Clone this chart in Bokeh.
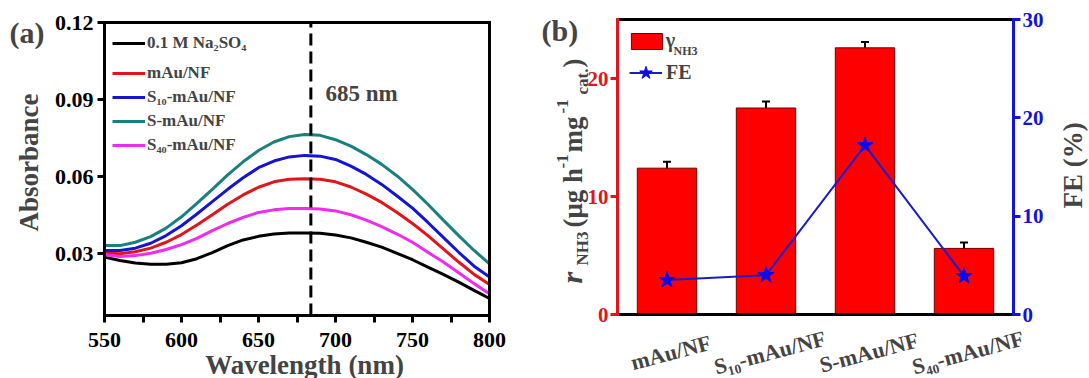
import math
from bokeh.plotting import figure
from bokeh.layouts import row
from bokeh.models import (Range1d, LinearAxis, Label, Legend, LegendItem,
                          Whisker, ColumnDataSource, FixedTicker, TeeHead,
                          NumeralTickFormatter)
from bokeh.embed import file_html
from bokeh.resources import INLINE

FONT = "Liberation Serif"

# ---------------- data: panel (a) ----------------
wavelength = [550, 560, 570, 580, 590, 600, 610, 620, 630, 640, 650, 660, 670,
              680, 690, 700, 710, 720, 730, 740, 750, 760, 770, 780, 790, 800]
abs_na2so4 = [0.0287, 0.0274, 0.0264, 0.0259, 0.0259, 0.0265, 0.0281, 0.0305, 0.0332,
              0.0354, 0.0368, 0.0377, 0.0381, 0.0381, 0.0380, 0.0373, 0.0362, 0.0345,
              0.0326, 0.0302, 0.0277, 0.0248, 0.0220, 0.0190, 0.0158, 0.0126]
abs_mau = [0.0304, 0.0300, 0.0308, 0.0322, 0.0345, 0.0375, 0.0412, 0.0452, 0.0493,
           0.0529, 0.0559, 0.0580, 0.0590, 0.0592, 0.0590, 0.0580, 0.0560, 0.0532,
           0.0500, 0.0461, 0.0418, 0.0371, 0.0319, 0.0268, 0.0220, 0.0181]
abs_s10 = [0.0313, 0.0313, 0.0322, 0.0341, 0.0371, 0.0409, 0.0455, 0.0503, 0.0551,
           0.0596, 0.0635, 0.0661, 0.0677, 0.0683, 0.0680, 0.0667, 0.0641, 0.0609,
           0.0570, 0.0525, 0.0478, 0.0422, 0.0364, 0.0306, 0.0252, 0.0210]
abs_s = [0.0332, 0.0332, 0.0345, 0.0367, 0.0400, 0.0444, 0.0496, 0.0551, 0.0607,
         0.0658, 0.0702, 0.0735, 0.0756, 0.0764, 0.0761, 0.0744, 0.0719, 0.0686,
         0.0648, 0.0603, 0.0551, 0.0493, 0.0431, 0.0371, 0.0313, 0.0261]
abs_s40 = [0.0296, 0.0290, 0.0293, 0.0302, 0.0317, 0.0336, 0.0360, 0.0390, 0.0418,
           0.0442, 0.0461, 0.0471, 0.0476, 0.0476, 0.0474, 0.0467, 0.0452, 0.0431,
           0.0406, 0.0377, 0.0345, 0.0306, 0.0268, 0.0226, 0.0184, 0.0145]
series_names = ["0.1 M Na\u2082SO\u2084", "mAu/NF", "S\u2081\u2080-mAu/NF",
                "S-mAu/NF", "S\u2084\u2080-mAu/NF"]
series_colors = ["#000000", "#E3151B", "#1414D2", "#1A7F7F", "#EE2BEE"]
x_lim_a = (550, 800)
y_lim_a = (0.006, 0.12)
x_ticks_a = [550, 600, 650, 700, 750, 800]
x_minor_a = [575, 625, 675, 725, 775]
y_ticks_a = [0.03, 0.06, 0.09, 0.12]
peak_nm = 684
peak_text = "685 nm"

# ---------------- data: panel (b) ----------------
catalysts = ["mAu/NF", "S\u2081\u2080-mAu/NF", "S-mAu/NF", "S\u2084\u2080-mAu/NF"]
r_nh3 = [12.4, 17.5, 22.6, 5.6]
r_nh3_err = [0.55, 0.55, 0.5, 0.5]
fe = [3.5, 4.0, 17.2, 3.9]
y_lim_left = (0, 25)
y_lim_right = (0, 30)
y_ticks_left = [0, 10, 20]
y_ticks_right = [0, 10, 20, 30]

RED_AX = "#E0161B"
BLUE_AX = "#1212DC"
H = 378


def ranges_for(box, w, lo, hi, ylo, yhi):
    """Extend data ranges so that the plot box sits at the given pixels of a full-canvas frame."""
    sx = (box["right"] - box["left"]) / (hi - lo)
    sy = (box["bottom"] - box["top"]) / (yhi - ylo)
    xr = Range1d(lo - box["left"] / sx, hi + (w - box["right"]) / sx)
    yr = Range1d(ylo - (H - box["bottom"]) / sy, yhi + box["top"] / sy)
    return xr, yr


def frame_axis(kind, fixed, bounds, color="black", ticks=(), minor=(), size="22px",
               standoff=4, y_range_name="default", formatter=None, minor_out=0):
    ax = LinearAxis(fixed_location=fixed, bounds=bounds,
                    ticker=FixedTicker(ticks=list(ticks), minor_ticks=list(minor)))
    if kind in ("left", "right"):
        ax.y_range_name = y_range_name
    ax.axis_line_width = 3
    ax.axis_line_color = color
    ax.axis_line_cap = "square"
    ax.major_tick_line_width = 3
    ax.major_tick_line_color = color
    ax.major_tick_out = 7
    ax.major_tick_in = 0
    ax.minor_tick_line_width = 3
    ax.minor_tick_line_color = color
    ax.minor_tick_out = minor_out
    ax.minor_tick_in = 0
    ax.major_label_text_font = FONT
    ax.major_label_text_font_style = "bold"
    ax.major_label_text_font_size = size
    ax.major_label_text_color = color
    ax.major_label_standoff = standoff
    if formatter is not None:
        ax.formatter = formatter
    return ax


def txt(x, y, text, size, align="left", baseline="middle", angle=0.0, style="bold",
        xu="screen", yu="screen", **kw):
    return Label(x=x, y=y, x_units=xu, y_units=yu, text=text, angle=angle,
                 text_font=FONT, text_font_style=style, text_font_size=size,
                 text_align=align, text_baseline=baseline, **kw)


def style_legend(lg, size):
    lg.padding = 0
    lg.margin = 0
    lg.border_line_color = None
    lg.background_fill_alpha = 0
    lg.label_text_font = FONT
    lg.label_text_font_style = "bold"
    lg.label_text_font_size = size


# ====================== panel (a) ======================
WA = 540
BOX_A = dict(left=104, right=489, top=22, bottom=315)
xr_a, yr_a = ranges_for(BOX_A, WA, x_lim_a[0], x_lim_a[1], y_lim_a[0], y_lim_a[1])
pa = figure(width=WA, height=H, x_range=xr_a, y_range=yr_a,
            x_axis_type=None, y_axis_type=None,
            output_backend="svg", toolbar_location=None, min_border=0)
pa.grid.visible = False
pa.outline_line_color = None
pa.background_fill_color = "white"
pa.border_fill_color = "white"

pa.add_layout(frame_axis("below", y_lim_a[0], x_lim_a, ticks=x_ticks_a, minor=x_minor_a,
                         standoff=10, minor_out=7), "below")
pa.add_layout(frame_axis("left", x_lim_a[0], y_lim_a, ticks=y_ticks_a, standoff=4,
                         formatter=NumeralTickFormatter(format="0.00")), "left")
pa.add_layout(frame_axis("above", y_lim_a[1], x_lim_a), "above")
pa.add_layout(frame_axis("right", x_lim_a[1], y_lim_a), "right")

series = [abs_na2so4, abs_mau, abs_s10, abs_s, abs_s40]
rends = []
for vals, col in zip(series, series_colors):
    rends.append(pa.line(wavelength, vals, line_color=col, line_width=3))

pa.segment(x0=[peak_nm], y0=[y_lim_a[0]], x1=[peak_nm], y1=[y_lim_a[1]],
           line_color="black", line_width=3, line_dash="12 6")
pa.add_layout(txt(693.5, 0.0922, peak_text, "23px", xu="data", yu="data"))

leg_a1 = Legend(items=[LegendItem(label=series_names[0], renderers=[rends[0]])],
                location=(112, 325), glyph_width=33, glyph_height=20, label_height=20,
                label_standoff=2)
leg_a2 = Legend(items=[LegendItem(label=n, renderers=[r]) for n, r in zip(series_names[1:], rends[1:])],
                location=(112, 223), glyph_width=33, glyph_height=20, label_height=20,
                label_standoff=2, spacing=4)
for lg in (leg_a1, leg_a2):
    style_legend(lg, "17px")
    pa.add_layout(lg)

pa.add_layout(txt(9, 346, "(a)", "30px"))
pa.add_layout(txt(28, 216, "Absorbance", "27px", align="center", angle=math.pi / 2))
pa.add_layout(txt(304, 14, "Wavelength (nm)", "27px", align="center"))

# ====================== panel (b) ======================
WB = 549
BOX_B = dict(left=77, right=473, top=19, bottom=314)
xpos = [i + 1 for i in range(len(catalysts))]
x_lim_b = (0.5, len(catalysts) + 0.5)
xr_b, yr_b = ranges_for(BOX_B, WB, x_lim_b[0], x_lim_b[1], y_lim_left[0], y_lim_left[1])
_, yr_fe = ranges_for(BOX_B, WB, x_lim_b[0], x_lim_b[1], y_lim_right[0], y_lim_right[1])

src = ColumnDataSource(dict(
    x=xpos, r=r_nh3, fe=fe,
    upper=[v + e for v, e in zip(r_nh3, r_nh3_err)],
    lower=[v - e for v, e in zip(r_nh3, r_nh3_err)],
))

pb = figure(width=WB, height=H, x_range=xr_b, y_range=yr_b,
            x_axis_type=None, y_axis_type=None,
            output_backend="svg", toolbar_location=None, min_border=0)
pb.extra_y_ranges = {"fe": yr_fe}
pb.grid.visible = False
pb.outline_line_color = None
pb.background_fill_color = "white"
pb.border_fill_color = "white"

bars = pb.vbar(x="x", top="r", bottom=0, width=0.6, source=src,
               fill_color="#FF0000", line_color="#6E0000", line_width=1)
pb.add_layout(Whisker(base="x", upper="upper", lower="lower", source=src,
                      line_color="black", line_width=2,
                      upper_head=TeeHead(size=8, line_width=2, line_color="black"),
                      lower_head=TeeHead(size=8, line_width=2, line_color="black")))
fe_line = pb.line(x="x", y="fe", source=src, y_range_name="fe",
                  line_color="#1A1ACF", line_width=2)
fe_pts = pb.scatter(x="x", y="fe", source=src, y_range_name="fe", marker="star",
                    size=17, fill_color="#0A0AF0", line_color="#0A0AF0")

pb.add_layout(frame_axis("below", y_lim_left[0], x_lim_b), "below")
pb.add_layout(frame_axis("above", y_lim_left[1], x_lim_b), "above")
pb.add_layout(frame_axis("left", x_lim_b[0], y_lim_left, color=RED_AX, ticks=y_ticks_left,
                         size="21px", standoff=2), "left")
pb.add_layout(frame_axis("right", x_lim_b[1], y_lim_right, color=BLUE_AX, ticks=y_ticks_right,
                         size="21px", standoff=2, y_range_name="fe"), "right")

# rotated category labels
for xp, name in zip(xpos, catalysts):
    pb.add_layout(txt(xp, 26, name, "22px", align="center", angle=0.26, xu="data",
                      x_offset=4))

# legends
leg_b1 = Legend(items=[LegendItem(label="\u03b3", renderers=[bars])], location=(86.7, 326),
                glyph_width=39, glyph_height=20, label_height=20, label_standoff=0)
leg_b2 = Legend(items=[LegendItem(label="FE", renderers=[fe_line, fe_pts])], location=(89, 289),
                glyph_width=33, glyph_height=33, label_height=20, label_standoff=4)
for lg in (leg_b1, leg_b2):
    style_legend(lg, "20px")
    pb.add_layout(lg)
pb.add_layout(txt(133, 327.5, "NH3", "12px"))

pb.add_layout(txt(1, 348, "(b)", "30px"))

# left axis title built from pieces (rotated, reading upward)
ytitle_parts = [
    ("r", 95, 31, "30px", "bold italic"),
    ("NH3", 113, 42.3, "17px", "bold"),
    ("(\u03bcg h", 151, 32, "27px", "bold"),
    ("-1", 210, 22.3, "17px", "bold"),
    ("mg", 226, 32, "27px", "bold"),
    ("-1", 265, 22.3, "17px", "bold"),
    ("cat.", 284, 42.3, "17px", "bold"),
    (")", 311, 32, "27px", "bold"),
]
for t, yy, xx, fs, st in ytitle_parts:
    pb.add_layout(txt(xx, yy, t, fs, angle=math.pi / 2, style=st))

pb.add_layout(txt(532, 213, "FE (%)", "27px", align="center", angle=math.pi / 2))

layout = row(pa, pb)
open("out.html", "w").write(file_html(layout, INLINE, "chart"))
